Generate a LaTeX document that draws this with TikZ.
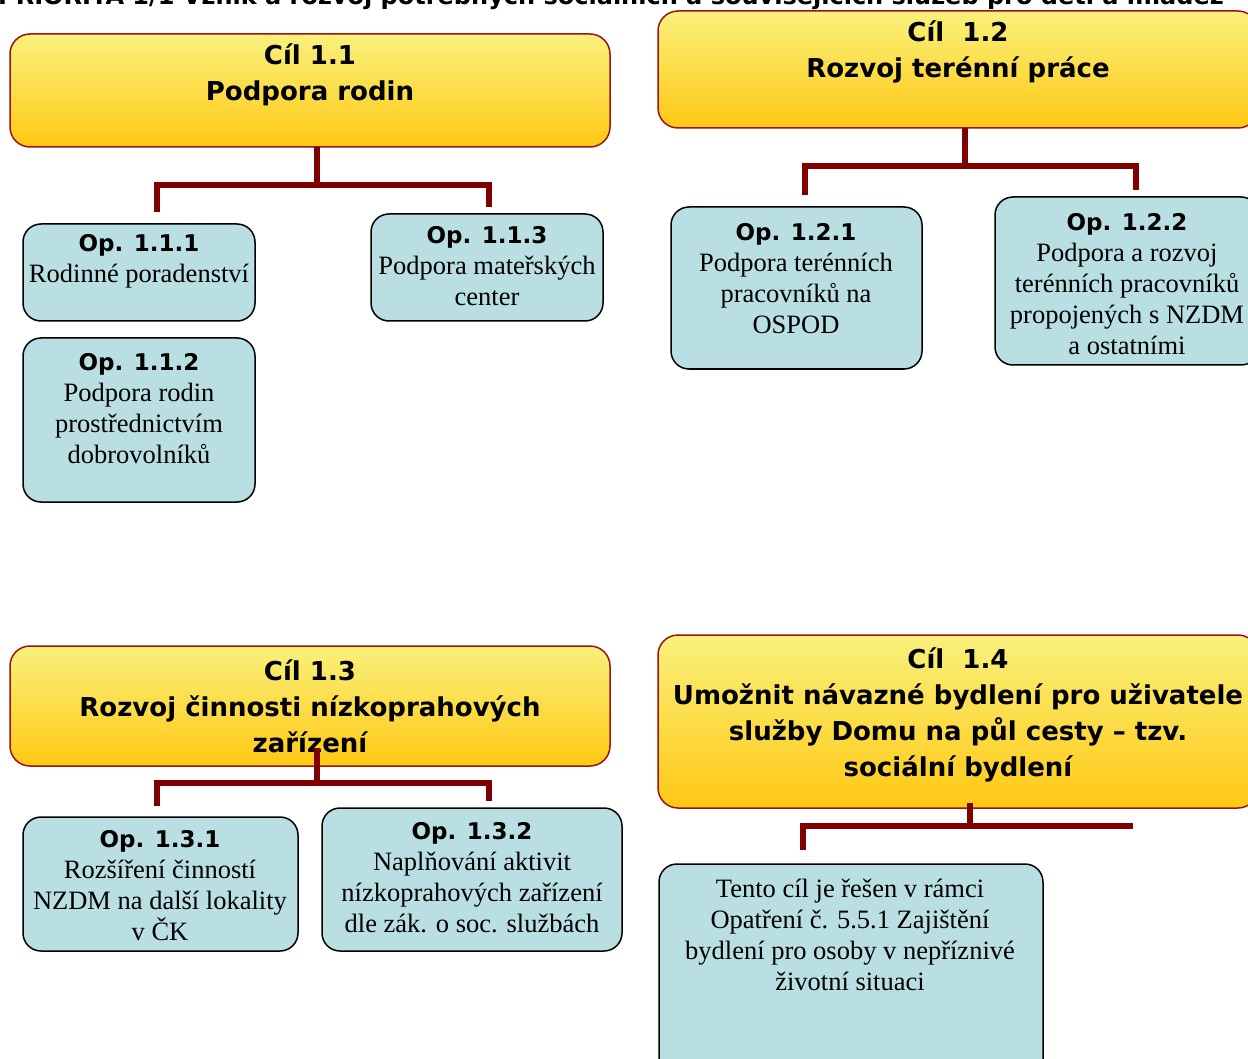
\documentclass[tikz,border=0pt]{standalone}
\usepackage{fontspec}
\setmainfont{Liberation Serif}
\newfontfamily\hfont{DejaVu Sans}
\definecolor{gtop}{HTML}{F9F17C}
\definecolor{gmid}{HTML}{FAE86A}
\definecolor{gbot}{HTML}{FFC814}
\definecolor{gborder}{HTML}{9B1515}
\definecolor{opblue}{HTML}{B9DFE2}
\definecolor{connred}{HTML}{800000}
\newcommand\ophead[1]{{\hfont\bfseries\fontsize{23}{31}\selectfont #1}}
\begin{document}
\begin{tikzpicture}[x=1pt,y=-1pt,
  goal/.style={draw=gborder, line width=1.5pt, rounded corners=20pt,
    top color=gtop, middle color=gmid, bottom color=gbot,
    anchor=north west, inner sep=0pt, outer sep=0pt},
  opbox/.style={draw=black, line width=1.5pt, rounded corners=18pt,
    fill=opblue, anchor=north west, inner sep=0pt, outer sep=0pt},
  gtext/.style={font=\hfont\bfseries\fontsize{26}{36}\selectfont, align=center, inner sep=0pt},
  optext/.style={font=\fontsize{26.5}{31}\selectfont, align=center, inner sep=0pt},
  titletext/.style={font=\hfont\bfseries\fontsize{24}{28}\selectfont, inner sep=0pt},
  conn/.style={draw=connred, line width=6pt, line join=miter, line cap=butt}]
\useasboundingbox (0,0) rectangle (1248,1059);
\clip (0,0) rectangle (1248,1059);
\fill[white] (0,0) rectangle (1248,1059);

% title (cut at top)
\node[titletext, anchor=base] (title) at (611,5) {PRIORITA 1/1 Vznik a rozvoj potřebných sociálních a souvisejících služeb pro děti a mládež};

% goal boxes
\node[goal, minimum width=600pt, minimum height=113pt] (c11) at (10,34) {};
\node[goal, minimum width=600pt, minimum height=117pt] (c12) at (658,11) {};
\node[goal, minimum width=600pt, minimum height=120pt] (c13) at (10,646) {};
\node[goal, minimum width=600pt, minimum height=173pt] (c14) at (658,635) {};

\node[gtext] (c11t) at (310,75) {Cíl 1.1\\Podpora rodin};
\node[gtext] (c12t) at (958,51.5) {Cíl\ \ 1.2\\Rozvoj terénní práce};
\node[gtext] (c13t) at (310,706) {Cíl 1.3\\Rozvoj činnosti nízkoprahových\\zařízení};
\node[gtext] (c14t) at (958,714.5) {Cíl\ \ 1.4\\Umožnit návazné bydlení pro uživatele\\služby Domu na půl cesty – tzv.\\sociální bydlení};

% measure boxes
\node[opbox, minimum width=232pt, minimum height=97pt] (o111) at (23,224) {};
\node[opbox, minimum width=232pt, minimum height=164pt] (o112) at (23,338) {};
\node[opbox, minimum width=232pt, minimum height=107pt] (o113) at (371,214) {};
\node[opbox, minimum width=251pt, minimum height=162pt] (o121) at (671,207) {};
\node[opbox, minimum width=264pt, minimum height=168pt] (o122) at (995,197) {};
\node[opbox, minimum width=275pt, minimum height=134pt] (o131) at (23,817) {};
\node[opbox, minimum width=300pt, minimum height=143pt] (o132) at (322,808) {};
\node[opbox, minimum width=384pt, minimum height=230pt] (o141) at (659,864) {};

\node[optext] (o111t) at (139,261) {\ophead{Op. 1.1.1}\\Rodinné poradenství};
\node[optext] (o112t) at (139,409) {\ophead{Op. 1.1.2}\\Podpora rodin\\prostřednictvím\\dobrovolníků};
\node[optext] (o113t) at (487,266.5) {\ophead{Op. 1.1.3}\\Podpora mateřských\\center};
\node[optext] (o121t) at (796,278.5) {\ophead{Op. 1.2.1}\\Podpora terénních\\pracovníků na\\OSPOD};
\node[optext] (o122t) at (1127,283.8) {\ophead{Op. 1.2.2}\\Podpora a rozvoj\\terénních pracovníků\\propojených s NZDM\\a ostatními};
\node[optext] (o131t) at (160,886) {\ophead{Op. 1.3.1}\\Rozšíření činností\\NZDM na další lokality\\v ČK};
\node[optext] (o132t) at (472,877.5) {\ophead{Op. 1.3.2}\\Naplňování aktivit\\nízkoprahových zařízení\\dle zák. o soc. službách};
\node[optext] (o141t) at (850,935) {Tento cíl je řešen v rámci\\Opatření č. 5.5.1 Zajištění\\bydlení pro osoby v nepříznivé\\životní situaci};

% connectors
\coordinate (j11) at (317,185);
\coordinate (e111) at (157,212);
\coordinate (e113) at (489,207);
\draw[conn] ([xshift=7pt]c11.south) -- ([xshift=7pt]c11.south |- j11);
\draw[conn] (e111) |- (j11) -| (e113);

\coordinate (j12) at (965,166);
\coordinate (e121) at (805,195);
\coordinate (e122) at (1136,190);
\draw[conn] ([xshift=7pt]c12.south) -- ([xshift=7pt]c12.south |- j12);
\draw[conn] (e121) |- (j12) -| (e122);

\coordinate (j13) at (317,783);
\coordinate (e131) at (157,806);
\coordinate (e132) at (489,801);
\draw[conn] ([xshift=7pt,yshift=18pt]c13.south) -- ([xshift=7pt]c13.south |- j13);
\draw[conn] (e131) |- (j13) -| (e132);

\coordinate (j14) at (970,826);
\coordinate (e141) at (803,850);
\coordinate (e14r) at (1133,826);
\draw[conn] ([xshift=12pt,yshift=5pt]c14.south) -- ([xshift=12pt]c14.south |- j14);
\draw[conn] (e141) |- (j14) -- (e14r);
\end{tikzpicture}
\end{document}
